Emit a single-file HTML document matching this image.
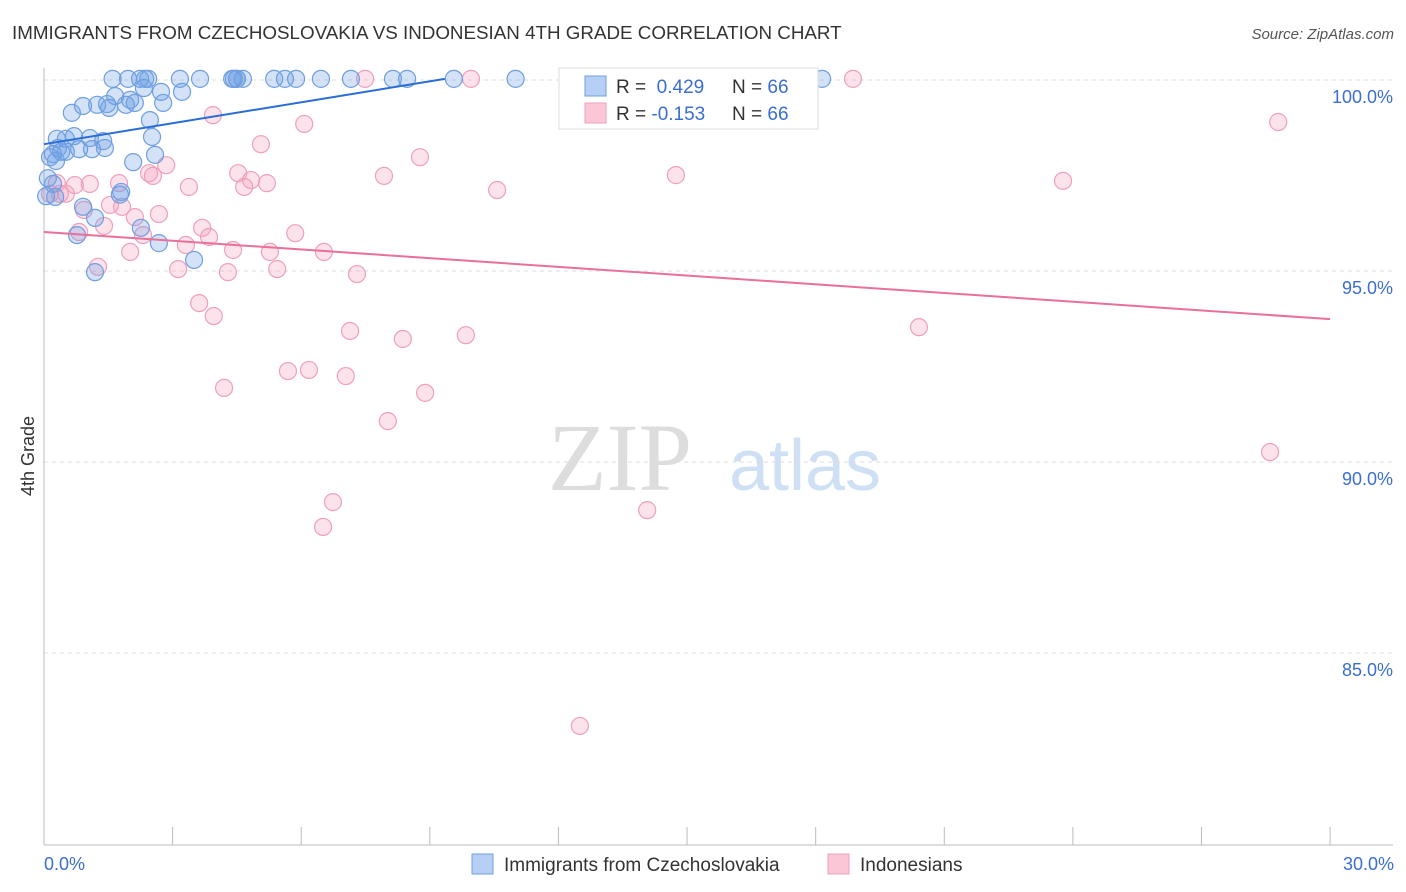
<!DOCTYPE html>
<html><head><meta charset="utf-8"><style>
body{margin:0;background:#fff;font-family:"Liberation Sans",sans-serif;}
svg{display:block}
</style></head><body>
<svg id="chart" width="1406" height="892">
<text x="12" y="39" font-size="18.8" fill="#333">IMMIGRANTS FROM CZECHOSLOVAKIA VS INDONESIAN 4TH GRADE CORRELATION CHART</text>
<text x="1394" y="39" font-size="15" fill="#555" font-style="italic" text-anchor="end">Source: ZipAtlas.com</text>
<text x="620" y="490" font-size="96" fill="#ddd" font-family="Liberation Serif,serif" text-anchor="middle">ZIP</text>
<text x="805" y="490" font-size="72" fill="#cfe0f5" text-anchor="middle">atlas</text>
<text transform="translate(34,456) rotate(-90)" font-size="18" fill="#333" text-anchor="middle">4th Grade</text>
<g id="grid"></g><g id="pts"></g><g id="trend"></g>
<g>
<rect x="559" y="68" width="259" height="61" fill="#fff" stroke="#ddd"/>
<rect x="585" y="76" width="21" height="20" fill="#b8cff5" stroke="#6f9fe0"/>
<rect x="585" y="103" width="21" height="20" fill="#fbc6d6" stroke="#eea0bb"/>
<text x="616" y="93" font-size="19" fill="#333">R = <tspan fill="#3a6fd0">&#160;0.429</tspan><tspan x="732">N = </tspan><tspan fill="#3a6fd0">66</tspan></text>
<text x="616" y="120" font-size="19" fill="#333">R = <tspan fill="#3a6fd0">-0.153</tspan><tspan x="732">N = </tspan><tspan fill="#3a6fd0">66</tspan></text>
</g>
<g>
<rect x="472" y="854" width="21" height="20" fill="#b8cff5" stroke="#6f9fe0"/>
<text x="504" y="871" font-size="19" fill="#333">Immigrants from Czechoslovakia</text>
<rect x="828" y="854" width="21" height="20" fill="#fbc6d6" stroke="#eea0bb"/>
<text x="860" y="871" font-size="19" fill="#333">Indonesians</text>
</g>
<text x="44" y="870" font-size="18" fill="#3a6fd0">0.0%</text>
<text x="1394" y="870" font-size="18" fill="#3a6fd0" text-anchor="end">30.0%</text>
</svg>
<script>
const yTicks=[100,95,90,85];
const xTicks=[0,3,6,9,12,15,18,21,24,27,30];
const blueX=[1.6,1.96,2.24,2.43,2.36,3.17,3.64,4.39,4.5,4.64,5.37,5.62,5.88,6.46,7.16,8.14,8.47,9.56,11.0,18.15,2.73,3.22,2.33,1.66,2.01,2.78,2.12,0.91,1.24,1.52,0.65,2.52,0.51,0.3,0.7,1.07,1.38,1.12,1.42,0.4,0.82,0.14,0.28,2.08,2.59,0.09,0.21,0.26,1.8,0.91,1.19,2.26,0.77,2.68,3.5,1.19,0.51,0.21,1.91,1.47,2.47,1.77,4.5,4.43,0.05,0.33];
const blueY=[100.03,100.03,100.03,100.03,100.03,100.03,100.03,100.03,100.03,100.03,100.03,100.03,100.03,100.03,100.03,100.03,100.03,100.03,100.03,100.03,99.69,99.69,99.79,99.58,99.48,99.4,99.4,99.32,99.35,99.27,99.14,98.51,98.46,98.46,98.53,98.48,98.4,98.19,98.22,98.12,98.19,97.98,97.88,97.85,98.04,97.43,97.28,96.94,97.07,96.68,96.39,96.13,95.94,95.73,95.29,94.97,98.12,98.06,99.35,99.37,98.95,97.0,100.03,100.03,96.96,98.22];
const pinkX=[7.49,9.96,18.87,28.79,3.94,6.07,5.06,8.77,2.85,2.45,4.53,4.83,5.2,4.67,3.38,0.72,1.07,1.75,0.3,0.51,10.57,14.74,23.77,7.93,1.54,0.93,1.82,2.12,2.68,3.69,1.4,0.82,2.31,3.85,5.86,3.31,4.41,5.27,6.53,2.01,1.26,3.13,4.29,5.44,7.3,3.62,3.96,7.14,8.37,9.84,20.41,5.69,6.18,7.04,4.2,8.89,8.02,28.6,6.74,6.51,14.07,12.5,0.14,0.37,2.54];
const pinkY=[100.03,100.03,100.03,98.9,99.08,98.85,98.32,97.98,97.77,97.56,97.56,97.38,97.3,97.2,97.2,97.25,97.28,97.3,97.3,97.02,97.12,97.51,97.36,97.49,96.73,96.6,96.68,96.41,96.49,96.13,96.18,96.02,95.94,95.89,95.99,95.68,95.55,95.5,95.5,95.5,95.11,95.05,94.97,95.05,94.92,94.16,93.82,93.43,93.22,93.32,93.53,92.38,92.41,92.25,91.94,91.81,91.07,90.26,88.95,88.3,88.74,83.09,97.02,97.02,97.49];
const blueTrend=[[0,98.32],[9.35,100.03]];
const pinkTrend=[[0,96.02],[30,93.74]];
const X=v=>44+v*42.87, Y=v=>80+(100-v)*38.2;
const NS="http://www.w3.org/2000/svg";
function mk(t,a,p){const e=document.createElementNS(NS,t);for(const k in a)e.setAttribute(k,a[k]);p.appendChild(e);return e;}
const grid=document.getElementById('grid');
yTicks.forEach(v=>{
 const l=mk('line',{x1:44,x2:1393,y1:Y(v),y2:Y(v),stroke:'#ddd','stroke-dasharray':'4,4'},grid);
 
 
 const t=mk('text',{x:1393,y:Y(v)+23,'font-size':18,fill:'#3a6fd0','text-anchor':'end'},grid);
 t.textContent=v.toFixed(1)+'%';
 
 
});
mk('line',{x1:44,x2:44,y1:68,y2:845,stroke:'#bbb'},grid);
mk('line',{x1:44,x2:1393,y1:845,y2:845,stroke:'#bbb'},grid);
xTicks.forEach(v=>{
 const l=mk('line',{x1:X(v),x2:X(v),y1:827,y2:845,stroke:'#bbb'},grid);
 
 
});
const pts=document.getElementById('pts');
pinkX.forEach((x,i)=>{
 const c=mk('circle',{cx:X(x),cy:Y(pinkY[i]),r:8.5,fill:'rgba(245,160,190,0.3)',stroke:'#eea0bb','stroke-width':1.2},pts);
 
 
});
blueX.forEach((x,i)=>{
 const c=mk('circle',{cx:X(x),cy:Y(blueY[i]),r:8.5,fill:'rgba(110,160,230,0.3)',stroke:'#6f9fe0','stroke-width':1.2},pts);
 
 
});
const tr=document.getElementById('trend');
const b=mk('line',{x1:X(blueTrend[0][0]),y1:Y(blueTrend[0][1]),x2:X(blueTrend[1][0]),y2:Y(blueTrend[1][1]),stroke:'#2a6dd6','stroke-width':2},tr);


const p=mk('line',{x1:X(pinkTrend[0][0]),y1:Y(pinkTrend[0][1]),x2:X(pinkTrend[1][0]),y2:Y(pinkTrend[1][1]),stroke:'#e8709a','stroke-width':2},tr);


</script>
</body></html>
